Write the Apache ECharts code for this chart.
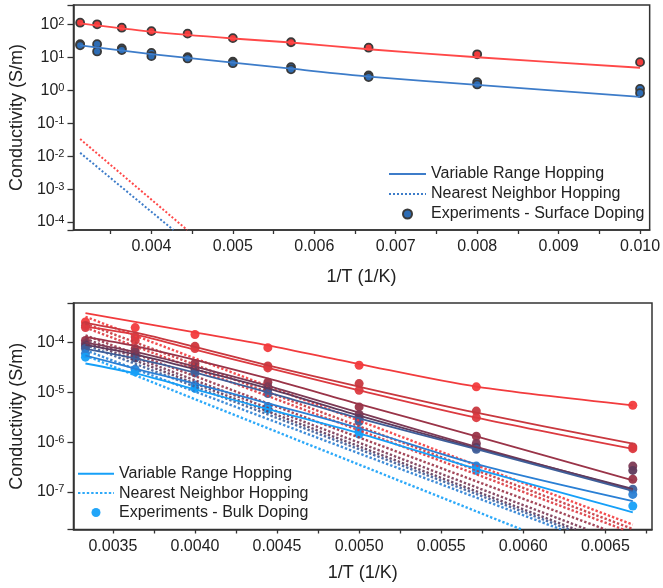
<!DOCTYPE html>
<html>
<head>
<meta charset="utf-8">
<script src="https://cdn.jsdelivr.net/npm/echarts@6/dist/echarts.min.js"></script>
<style>
html, body { margin: 0; padding: 0; background: #fff; }
#chart { width: 663px; height: 588px; }
</style>
</head>
<body>
<div id="chart"></div>
<script>
// ---- top panel : surface doping ----
var surfT = [0.003125, 0.003333, 0.003636, 0.004, 0.004444, 0.005, 0.005714, 0.006667, 0.008, 0.010];
var surfRedExp = [112, 100, 79, 62, 52, 38, 28.5, 19.5, 12.3, 7.1];
var surfBlueExpA = [25, 25, 18.5, 13.5, 10, 7.3, 5.0, 2.8, 1.75, 1.1];
var surfBlueExpB = [23, 15, 16.5, 10.8, 9.2, 6.6, 4.3, 2.5, 1.5, 0.82];
var surfFitT = [0.003125, 0.004, 0.005, 0.005714, 0.006667, 0.008, 0.010];
var surfRedVrh = [107, 60, 37, 28, 17.5, 10, 4.8];
var surfBlueVrh = [23, 12.5, 6.9, 4.5, 2.6, 1.45, 0.63];
var surfRedNnhT = [0.003125, 0.00444];
var surfRedNnh = [0.033, 5.75e-5];
var surfBlueNnhT = [0.003125, 0.00427];
var surfBlueNnh = [0.0126, 5.75e-5];
var topTicks = [0.0035, 0.004, 0.0045, 0.005, 0.0055, 0.006, 0.0065, 0.007, 0.0075, 0.008, 0.0085, 0.009, 0.0095, 0.010];
var topLabels = [0.004, 0.005, 0.006, 0.007, 0.008, 0.009, 0.010];

// ---- bottom panel : bulk doping ----
var bulkT = [0.003333, 0.003636, 0.004, 0.004444, 0.005, 0.005714, 0.006667];
var bulkColors = ['#f23b3d', '#c8383f', '#dc3a40', '#9a3448', '#7d3a55', '#5f3a5c', '#3f5f9a', '#2a7fd4', '#16a0f8'];
var bulkExp = [
  [2.6e-4, 2.0e-4, 1.45e-4, 7.9e-5, 3.5e-5, 1.29e-5, 5.5e-6],
  [2.2e-4, 1.3e-4, 8.4e-5, 3.4e-5, 1.5e-5, 4.2e-6, 8.0e-7],
  [2.0e-4, 1.1e-4, 7.6e-5, 3.1e-5, 1.1e-5, 3.1e-6, 7.4e-7],
  [1.1e-4, 7.5e-5, 3.8e-5, 1.6e-5, 5.1e-6, 1.31e-6, 1.8e-7],
  [9.5e-5, 6.5e-5, 3.2e-5, 1.3e-5, 3.6e-6, 9.4e-7, 3.3e-7],
  [8.5e-5, 5.5e-5, 2.8e-5, 1.15e-5, 3.0e-6, 7.8e-7, 2.7e-7],
  [7.6e-5, 4.9e-5, 2.46e-5, 9.5e-6, 2.6e-6, 7.2e-7, 1.13e-7],
  [6.0e-5, 2.9e-5, 1.4e-5, 5.2e-6, 1.7e-6, 3.3e-7, 8.9e-8],
  [5.1e-5, 2.6e-5, 1.2e-5, 4.6e-6, 1.45e-6, 2.7e-7, 5.2e-8]
];
var bulkVrh = [
  [3.9e-4, 2.6e-4, 1.6e-4, 8.8e-5, 3.7e-5, 1.3e-5, 5.5e-6],
  [2.5e-4, 1.6e-4, 8.2e-5, 3.5e-5, 1.3e-5, 3.9e-6, 9.3e-7],
  [2.1e-4, 1.45e-4, 7.2e-5, 3.1e-5, 1.1e-5, 3.1e-6, 7.3e-7],
  [1.3e-4, 8.5e-5, 4.5e-5, 1.9e-5, 5.8e-6, 1.31e-6, 1.7e-7],
  [1.0e-4, 6.5e-5, 3.3e-5, 1.35e-5, 3.9e-6, 8.0e-7, 1.1e-7],
  [9.0e-5, 5.8e-5, 2.9e-5, 1.2e-5, 3.4e-6, 7.6e-7, 1.15e-7],
  [7.5e-5, 4.8e-5, 2.5e-5, 1.0e-5, 3.0e-6, 7.2e-7, 1.05e-7],
  [5.5e-5, 3.0e-5, 1.5e-5, 6.0e-6, 1.9e-6, 3.6e-7, 6.5e-8],
  [3.8e-5, 2.4e-5, 1.15e-5, 4.6e-6, 1.5e-6, 2.9e-7, 3.9e-8]
];
// nearest neighbour hopping: start / end of each straight dotted line
var bulkNnhT = [
  [0.003333, 0.006667], [0.003333, 0.006667], [0.003333, 0.00661],
  [0.003333, 0.0065], [0.003333, 0.00639], [0.003333, 0.00632],
  [0.003333, 0.00628], [0.003333, 0.00623], [0.003333, 0.00599]
];
var bulkNnh = [
  [3.3e-4, 2.2e-8], [2.4e-4, 1.8e-8], [2.0e-4, 1.76e-8],
  [1.4e-4, 1.76e-8], [1.2e-4, 1.76e-8], [1.05e-4, 1.76e-8],
  [9.0e-5, 1.76e-8], [7.0e-5, 1.76e-8], [5.5e-5, 1.76e-8]
];
var bottomTicks = [0.0035, 0.00375, 0.004, 0.00425, 0.0045, 0.00475, 0.005, 0.00525, 0.0055, 0.00575, 0.006, 0.00625, 0.0065, 0.00675];
var bottomLabels = [0.0035, 0.004, 0.0045, 0.005, 0.0055, 0.006, 0.0065];

var FONT = 'Liberation Sans, Arial, sans-serif';
var INK = '#222';

function zip(xs, ys) {
  return xs.map(function (x, i) { return [x, ys[i]]; });
}

function powLabel(v) {
  var e = Math.log10(v);
  var r = Math.round(e);
  if (Math.abs(e - r) > 1e-6) return '';
  return '10{s|' + r + '}';
}

var legendNames = {
  vrhS: 'Variable Range Hopping', nnhS: 'Nearest Neighbor Hopping', expS: 'Experiments - Surface Doping',
  vrhB: 'Variable Range Hopping', nnhB: 'Nearest Neighbor Hopping', expB: 'Experiments - Bulk Doping'
};

function xAxisCfg(gridIndex, min, max, ticks, labels, digits, gap) {
  return {
    type: 'value', gridIndex: gridIndex, min: min, max: max,
    name: '1/T (1/K)', nameLocation: 'middle', nameGap: gap,
    nameTextStyle: { fontFamily: FONT, fontSize: 18, color: INK },
    axisLine: { lineStyle: { color: '#333', width: 1.5 } },
    axisTick: { show: true, length: 4, customValues: ticks, lineStyle: { color: '#333', width: 1.3 } },
    axisLabel: {
      customValues: labels, margin: 9, fontFamily: FONT, fontSize: 16, color: INK,
      formatter: function (v) { return Number(v).toFixed(digits); }
    },
    splitLine: { show: false }
  };
}

function yAxisCfg(gridIndex, min, max, split, gap) {
  return {
    type: 'log', logBase: 10, gridIndex: gridIndex, min: min, max: max, splitNumber: split,
    name: 'Conductivity (S/m)', nameLocation: 'middle', nameGap: gap,
    nameTextStyle: { fontFamily: FONT, fontSize: 18, color: INK },
    axisLine: { show: true, lineStyle: { color: '#333', width: 1.5 } },
    axisTick: { show: true, length: 6, lineStyle: { color: '#333', width: 1.3 } },
    axisLabel: {
      margin: 9, fontFamily: FONT, fontSize: 16, color: INK, formatter: powLabel,
      rich: { s: { fontFamily: FONT, fontSize: 11, color: INK, verticalAlign: 'top', lineHeight: 12, padding: [0, 0, 8, 0] } }
    },
    minorTick: { show: false },
    splitLine: { show: false }
  };
}

function legendCfg(names, left, top, itemWidth, lineHeight) {
  return {
    data: [
      { name: names[0], itemStyle: { opacity: 0 } },
      { name: names[1], itemStyle: { opacity: 0 } },
      { name: names[2] }
    ],
    orient: 'vertical', left: left, top: top, padding: 0,
    itemWidth: itemWidth, itemHeight: 9, itemGap: 0,
    selectedMode: false, formatter: function (n) { return legendNames[n]; },
    textStyle: { fontFamily: FONT, fontSize: 16, color: INK, lineHeight: lineHeight }
  };
}

var series = [];

// top panel series
series.push({ type: 'line', name: 'surfRedNnh', xAxisIndex: 0, yAxisIndex: 0, symbol: 'none',
  data: zip(surfRedNnhT, surfRedNnh), lineStyle: { color: '#ff4848', width: 2, type: [2, 2] } });
series.push({ type: 'line', name: 'nnhS', xAxisIndex: 0, yAxisIndex: 0, symbol: 'none',
  data: zip(surfBlueNnhT, surfBlueNnh), lineStyle: { color: '#3d7cc9', width: 2, type: [2, 2] }, itemStyle: { color: '#3d7cc9' } });
series.push({ type: 'line', name: 'surfRedVrh', xAxisIndex: 0, yAxisIndex: 0, symbol: 'none', smooth: 0.3,
  data: zip(surfFitT, surfRedVrh), lineStyle: { color: '#ff4848', width: 1.8 } });
series.push({ type: 'line', name: 'vrhS', xAxisIndex: 0, yAxisIndex: 0, symbol: 'none', smooth: 0.3,
  data: zip(surfFitT, surfBlueVrh), lineStyle: { color: '#3d7cc9', width: 1.8 }, itemStyle: { color: '#3d7cc9' } });
series.push({ type: 'scatter', name: 'surfRedExp', xAxisIndex: 0, yAxisIndex: 0, symbolSize: 8,
  data: zip(surfT, surfRedExp), itemStyle: { color: '#f03c3c', borderColor: '#3a3a3a', borderWidth: 1.8, opacity: 1 } });
series.push({ type: 'scatter', name: 'expS', xAxisIndex: 0, yAxisIndex: 0, symbolSize: 8,
  data: zip(surfT, surfBlueExpA).concat(zip(surfT, surfBlueExpB)),
  itemStyle: { color: '#2d6cb4', borderColor: '#3a3a3a', borderWidth: 1.8, opacity: 1 } });

// bottom panel series
bulkNnh.forEach(function (vals, i) {
  series.push({ type: 'line', name: i === 8 ? 'nnhB' : 'bulkNnh' + i, xAxisIndex: 1, yAxisIndex: 1, symbol: 'none',
    data: zip(bulkNnhT[i], vals), lineStyle: { color: bulkColors[i], width: 2.4, type: [2.4, 2], opacity: 0.9 },
    itemStyle: { color: bulkColors[i] } });
});
bulkVrh.forEach(function (vals, i) {
  series.push({ type: 'line', name: i === 8 ? 'vrhB' : 'bulkVrh' + i, xAxisIndex: 1, yAxisIndex: 1, symbol: 'none', smooth: 0.3,
    data: zip(bulkT, vals), lineStyle: { color: bulkColors[i], width: 1.8 }, itemStyle: { color: bulkColors[i] } });
});
bulkExp.forEach(function (vals, i) {
  series.push({ type: 'scatter', name: i === 8 ? 'expB' : 'bulkExp' + i, xAxisIndex: 1, yAxisIndex: 1, symbolSize: 9,
    data: zip(bulkT, vals), itemStyle: { color: bulkColors[i], opacity: 0.95 } });
});

var chart = echarts.init(document.getElementById('chart'), null, { renderer: 'canvas' });
chart.setOption({
  animation: false,
  backgroundColor: '#fff',
  textStyle: { fontFamily: FONT },
  grid: [
    { left: 69, top: 5, width: 583, height: 225, show: true, borderColor: '#333', borderWidth: 1.5, backgroundColor: 'transparent' },
    { left: 66, top: 303, width: 586, height: 226.5, show: true, borderColor: '#333', borderWidth: 1.5, backgroundColor: 'transparent' }
  ],
  xAxis: [
    xAxisCfg(0, 0.003043, 0.010118, topTicks, topLabels, 3, 38),
    xAxisCfg(1, 0.00326, 0.006784, bottomTicks, bottomLabels, 4, 35)
  ],
  yAxis: [
    yAxisCfg(0, Math.pow(10, -4.24), Math.pow(10, 2.585), 7, 44),
    yAxisCfg(1, Math.pow(10, -7.755), Math.pow(10, -3.205), 5, 41)
  ],
  legend: [
    legendCfg(['vrhS', 'nnhS', 'expS'], 388, 164, 37, 20),
    legendCfg(['vrhB', 'nnhB', 'expB'], 77, 464, 36, 19.4)
  ],
  series: series
});
</script>
</body>
</html>
